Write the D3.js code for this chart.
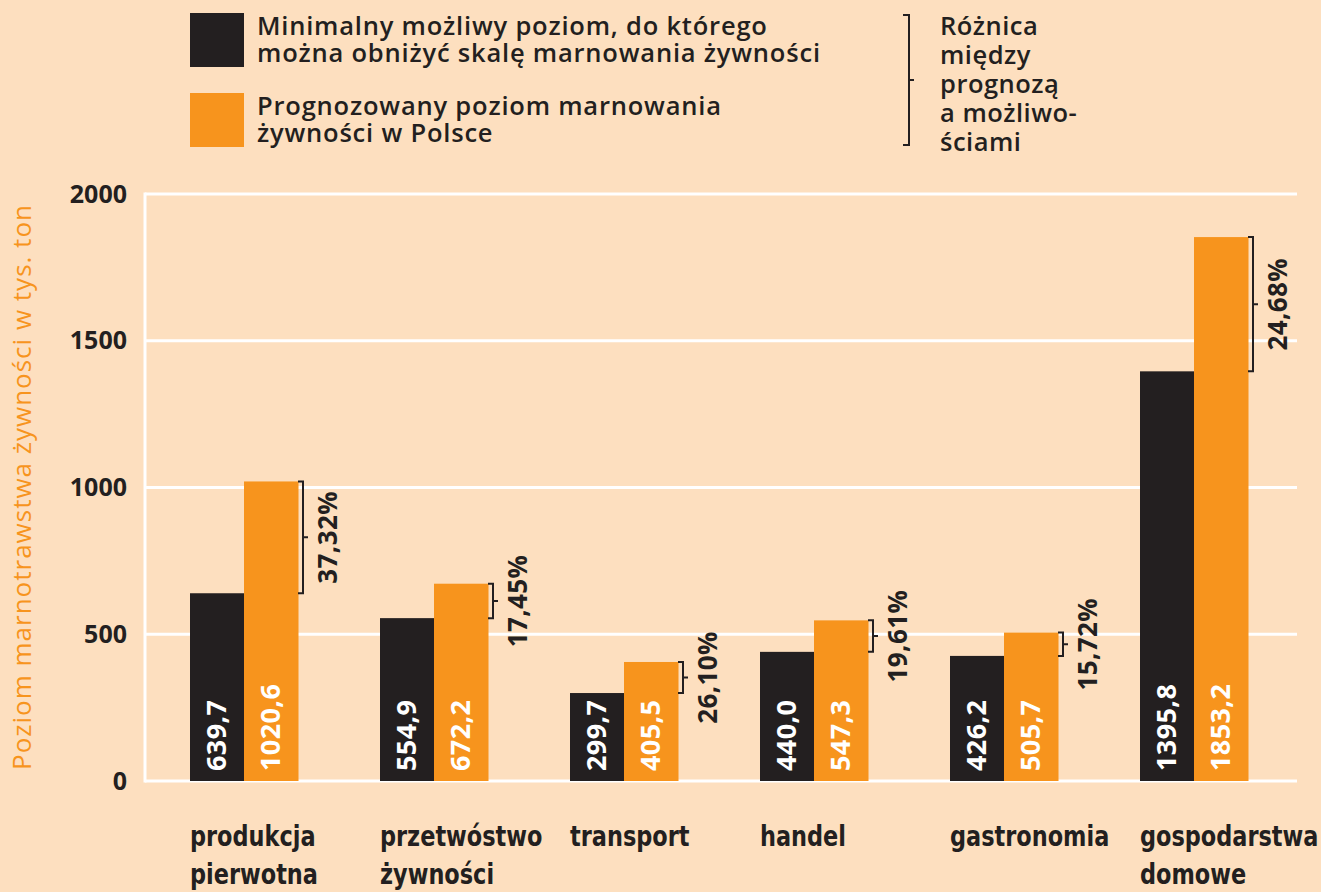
<!DOCTYPE html>
<html>

<head>
    <meta charset="UTF-8">
    <style>
        body { margin: 0; background: #fddfbf; }
        svg { display: block; }
    </style>
</head>

<body>
    <div id="my_dataviz"></div>

    <script src="https://d3js.org/d3.v7.min.js"></script>
    <script>
        // chart data
        const categories = ["produkcja pierwotna", "przetwóstwo żywności", "transport", "handel", "gastronomia", "gospodarstwa domowe"];
        const categoryLines = [["produkcja", "pierwotna"], ["przetwóstwo", "żywności"], ["transport"], ["handel"], ["gastronomia"], ["gospodarstwa", "domowe"]];
        const minimalValues = [639.7, 554.9, 299.7, 440.0, 426.2, 1395.8];
        const forecastValues = [1020.6, 672.2, 405.5, 547.3, 505.7, 1853.2];
        const diffLabels = ["37,32%", "17,45%", "26,10%", "19,61%", "15,72%", "24,68%"];
        const yTicks = [0, 500, 1000, 1500, 2000];
        const seriesKeys = ["min", "forecast"];
        const legendLabels = [
            ["Minimalny możliwy poziom, do którego", "można obniżyć skalę marnowania żywności"],
            ["Prognozowany poziom marnowania", "żywności w Polsce"]
        ];
        const bracketLegend = ["Różnica", "między", "prognozą", "a możliwo-", "ściami"];
        const yTitle = "Poziom marnotrawstwa żywności w tys. ton";

        const W = 1321, H = 892;
        const dark = "#231f20", orange = "#f7941d", bg = "#fddfbf";
        const fontMain = "'Open Sans', 'Noto Sans', sans-serif";
        const fontCond = "'DejaVu Sans Condensed', 'Liberation Sans Narrow', sans-serif";

        const svg = d3.select("#my_dataviz")
            .append("svg")
            .attr("width", W)
            .attr("height", H)
            .style("background", bg);

        // scales
        const y = d3.scaleLinear().domain([0, 2000]).range([781, 194]);

        const x = d3.scaleBand()
            .domain(categories)
            .range([190, 1248])
            .paddingInner(82 / 190)
            .paddingOuter(0)
            .align(0);

        const xSub = d3.scaleBand().domain(seriesKeys).range([0, x.bandwidth()]);
        const color = d3.scaleOrdinal().domain(seriesKeys).range([dark, orange]);

        // grid
        const grid = svg.append("g");
        grid.selectAll("line")
            .data(yTicks)
            .enter().append("line")
            .attr("x1", 145).attr("x2", 1297)
            .attr("y1", d => y(d)).attr("y2", d => y(d))
            .attr("stroke", "#fff").attr("stroke-width", 3);
        grid.append("line")
            .attr("x1", 145).attr("x2", 145)
            .attr("y1", y(2000) - 1.5).attr("y2", y(0) + 1.5)
            .attr("stroke", "#fff").attr("stroke-width", 3);

        // y axis
        const yAxis = svg.append("g")
            .attr("transform", "translate(127,0)")
            .call(d3.axisLeft(y).tickValues(yTicks).tickFormat(d3.format("d")).tickSize(0).tickPadding(0));
        yAxis.select(".domain").remove();
        yAxis.selectAll("text")
            .attr("font-family", fontMain)
            .attr("font-weight", 700)
            .attr("font-size", 25)
            .attr("fill", dark)
            .attr("dy", "0.32em");

        svg.append("text")
            .attr("transform", "translate(31," + ((y(0) + y(2000)) / 2) + ") rotate(-90)")
            .attr("text-anchor", "middle")
            .attr("font-family", fontMain)
            .attr("font-size", 26)
            .attr("textLength", 565)
            .attr("lengthAdjust", "spacing")
            .attr("fill", orange)
            .text(yTitle);

        // bars
        const rows = categories.map((c, i) => ({ cat: c, min: minimalValues[i], forecast: forecastValues[i], diff: diffLabels[i], lines: categoryLines[i] }));

        const groups = svg.append("g").selectAll("g")
            .data(rows)
            .enter().append("g")
            .attr("transform", d => "translate(" + x(d.cat) + ",0)");

        groups.selectAll("rect")
            .data(d => seriesKeys.map(k => ({ key: k, value: d[k] })))
            .enter().append("rect")
            .attr("x", d => xSub(d.key))
            .attr("y", d => y(d.value))
            .attr("width", xSub.bandwidth() + 0.5)
            .attr("height", d => y(0) - y(d.value))
            .attr("fill", d => color(d.key));

        // value labels inside bars
        groups.selectAll("text.val")
            .data(d => seriesKeys.map(k => ({ key: k, value: d[k] })))
            .enter().append("text")
            .attr("class", "val")
            .attr("transform", d => "translate(" + (xSub(d.key) + xSub.bandwidth() / 2 + 9) + "," + (y(0) - 10) + ") rotate(-90)")
            .attr("font-family", fontMain)
            .attr("font-weight", 700)
            .attr("font-size", 27)
            .attr("letter-spacing", 0.4)
            .attr("fill", "#fff")
            .text(d => d3.format(".1f")(d.value).replace(".", ","));

        // difference brackets
        const bx = x.bandwidth() + 5;
        groups.append("path")
            .attr("d", d => {
                const t = y(d.forecast), b = y(d.min), m = (t + b) / 2;
                return "M" + (bx - 5) + "," + t + "H" + bx + "V" + b + "H" + (bx - 5) +
                    "M" + bx + "," + m + "H" + (bx + 5);
            })
            .attr("fill", "none")
            .attr("stroke", dark)
            .attr("stroke-width", 2);

        groups.append("text")
            .attr("transform", d => "translate(" + (bx + 34) + "," + ((y(d.forecast) + y(d.min)) / 2) + ") rotate(-90)")
            .attr("text-anchor", "middle")
            .attr("font-family", fontMain)
            .attr("font-weight", 700)
            .attr("font-size", 26)
            .attr("letter-spacing", 0.4)
            .attr("fill", dark)
            .text(d => d.diff);

        // category labels (condensed look)
        groups.append("g")
            .attr("transform", "scale(0.86,1)")
            .append("text")
            .attr("font-family", fontCond)
            .attr("font-weight", 700)
            .attr("font-size", 29)
            .attr("fill", dark)
            .selectAll("tspan")
            .data(d => d.lines)
            .enter().append("tspan")
            .attr("x", 0)
            .attr("y", (d, i) => 846 + i * 38)
            .text(d => d);

        // legend
        const legend = svg.append("g");
        legendLabels.forEach((lines, i) => {
            const g = legend.append("g").attr("transform", "translate(190," + (13 + i * 80) + ")");
            g.append("rect").attr("width", 54).attr("height", 54).attr("fill", color(seriesKeys[i]));
            g.append("text")
                .attr("font-family", fontMain)
                .attr("font-weight", 600)
                .attr("font-size", 25.5)
                .attr("letter-spacing", 0.8)
                .attr("fill", dark)
                .selectAll("tspan")
                .data(lines)
                .enter().append("tspan")
                .attr("x", 67)
                .attr("y", (d, j) => 22 + j * 27)
                .text(d => d);
        });

        const bl = legend.append("g").attr("transform", "translate(903,15)");
        bl.append("path")
            .attr("d", "M0,0H6V130H0M6,65H11")
            .attr("fill", "none")
            .attr("stroke", dark)
            .attr("stroke-width", 2);
        bl.append("text")
            .attr("font-family", fontMain)
            .attr("font-weight", 600)
            .attr("font-size", 25.5)
            .attr("letter-spacing", 0.5)
            .attr("fill", dark)
            .selectAll("tspan")
            .data(bracketLegend)
            .enter().append("tspan")
            .attr("x", 37)
            .attr("y", (d, j) => 20 + j * 29)
            .text(d => d);
    </script>
</body>

</html>
